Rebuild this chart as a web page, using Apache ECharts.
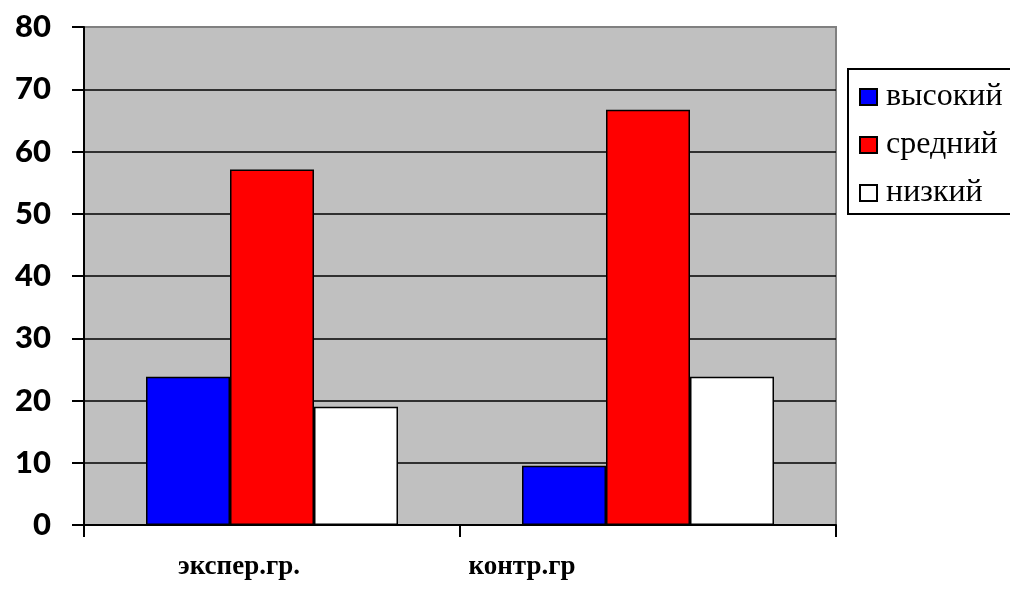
<!DOCTYPE html>
<html>
<head>
<meta charset="utf-8">
<script src="https://cdn.jsdelivr.net/npm/echarts@6/dist/echarts.min.js"></script>
<style>
  html, body { margin: 0; padding: 0; background: #fff; }
  #chart { width: 1010px; height: 597px; }
</style>
</head>
<body>
<div id="chart"></div>
<script>
// Groups and levels
const categories = ['экспер.гр.', 'контр.гр'];
const levelNames = ['высокий', 'средний', 'низкий'];
const levelColors = ['#0000ff', '#ff0000', '#ffffff'];

// Share of students per level, %
const highValues = [23.8, 9.5];
const midValues = [57.1, 66.7];
const lowValues = [19, 23.8];

const yMin = 0, yMax = 80, yStep = 10;

const seriesValues = [highValues, midValues, lowValues];

// Gridlines black, the top one (plot frame) grey
const gridLineColors = [];
for (let v = yMin; v <= yMax; v += yStep) gridLineColors.push(v === yMax ? '#808080' : '#000');

const serif = '"Liberation Serif", "Times New Roman", serif';

const chart = echarts.init(document.getElementById('chart'), null, { renderer: 'canvas' });

chart.setOption({
  animation: false,
  backgroundColor: '#ffffff',
  grid: {
    left: 84, top: 27, width: 752, height: 498,
    show: true,
    backgroundColor: '#c0c0c0',
    borderColor: '#808080',
    borderWidth: 2
  },
  legend: {
    orient: 'vertical',
    left: 848, top: 69,
    padding: [12, 24, 5, 11],
    borderColor: '#000',
    borderWidth: 2,
    icon: 'rect',
    itemWidth: 17, itemHeight: 16,
    itemGap: 16,
    data: levelNames,
    textStyle: {
      fontFamily: serif,
      fontSize: 32, lineHeight: 32, color: '#000',
      padding: [0, 0, 0, 4]
    }
  },
  xAxis: {
    type: 'category',
    data: categories,
    axisLine: { lineStyle: { color: '#000', width: 2 } },
    axisTick: { show: true, length: 12, lineStyle: { color: '#000', width: 2 } },
    axisLabel: {
      margin: 29,
      formatter: (v, i) => '{c' + i + '|' + v + '}',
      rich: {
        c0: { padding: [0, 66, 0, 0], fontFamily: serif, fontWeight: 'bold', fontSize: 27, color: '#000' },
        c1: { padding: [0, 252, 0, 0], fontFamily: serif, fontWeight: 'bold', fontSize: 27, color: '#000' }
      }
    },
    splitLine: { show: false }
  },
  yAxis: {
    type: 'value',
    min: yMin, max: yMax, interval: yStep,
    axisLine: { show: true, lineStyle: { color: '#000', width: 2 } },
    axisTick: { show: true, length: 12, lineStyle: { color: '#000', width: 2 } },
    axisLabel: {
      margin: 33,
      fontFamily: 'Lato, "Open Sans", sans-serif',
      fontWeight: 900, fontSize: 31, color: '#000'
    },
    splitLine: { show: true, lineStyle: { color: gridLineColors, width: 1.5 } }
  },
  series: levelNames.map((name, k) => ({
    name: name,
    type: 'bar',
    data: seriesValues[k],
    barWidth: 84,
    barGap: '0%',
    itemStyle: { color: levelColors[k], borderColor: '#000', borderWidth: 1.5 }
  }))
});
</script>
</body>
</html>
